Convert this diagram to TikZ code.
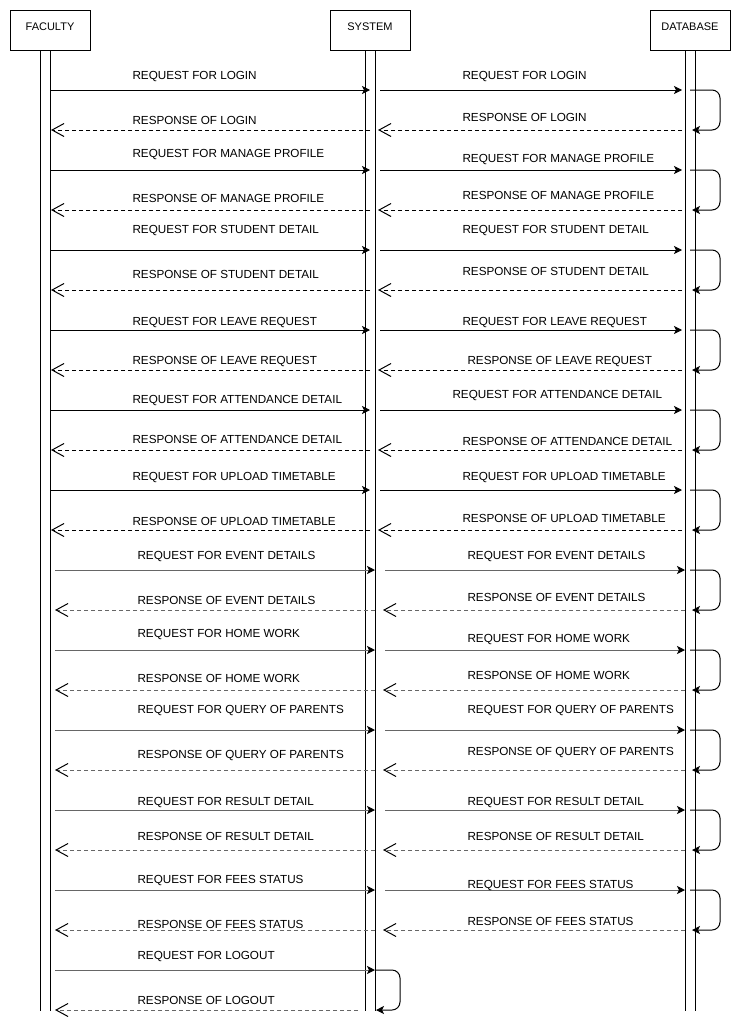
\documentclass[tikz,border=0pt]{standalone}
\usepackage{fontspec}
\setmainfont{Liberation Sans}
\usetikzlibrary{arrows.meta,positioning}

\begin{document}
\begin{tikzpicture}[x=1pt,y=-1pt,line width=1pt,font=\fontsize{11.7}{14}\selectfont,
 actor/.style={draw,minimum width=80pt,minimum height=40pt,inner sep=0pt,text depth=6pt,font=\fontsize{11}{13}\selectfont},
 lbl/.style={anchor=base west,inner sep=0pt},
 req/.style={-{Stealth[length=8pt,width=8pt,inset=2pt,color=black]}},
 res/.style={dash pattern=on 4pt off 3pt,-{Straight Barb[length=12pt,width=13pt,color=black,line width=1pt]}},
 self/.style={rounded corners=8pt,-{Stealth[length=8pt,width=8pt,inset=2pt]}},
 dim/.style={draw=black!60}]
\useasboundingbox (0,0) rectangle (742,1036);
\node[actor](faculty) at (50,30){FACULTY};
\node[actor](system) at (370,30){SYSTEM};
\node[actor](database) at (690,30){DATABASE};
% lifelines
\draw([xshift=-10pt]faculty.south)--++(0,960) (faculty.south)--++(0,960);
\draw([xshift=-5pt]system.south)--++(0,960) ([xshift=5pt]system.south)--++(0,960);
\draw([xshift=-5pt]database.south)--++(0,960) ([xshift=5pt]database.south)--++(0,960);
% first block of messages
\foreach \y/\txt/\ya/\yb/\yc/\yd/\xb/\xd [count=\i] in {
 90/LOGIN/79/79/124/121/462/462,
 170/MANAGE PROFILE/157/162/202/199/462/462,
 250/STUDENT DETAIL/233/233/278/275/462/462,
 330/LEAVE REQUEST/325/325/364/364/462/467,
 410/ATTENDANCE DETAIL/403/398/443/445/452/462,
 490/UPLOAD TIMETABLE/480/480/525/522/462/462}{
 \coordinate(fa\i) at (50,\y); \coordinate(sa\i) at (370,\y);
 \coordinate(sb\i) at (380,\y); \coordinate(da\i) at (682,\y);
 \coordinate(dl\i) at (690,\y); \coordinate(dr\i) at (692,\y+40);
 \coordinate(dc\i) at (682,\y+40); \coordinate(sd\i) at (378,\y+40);
 \coordinate(sc\i) at (370,\y+40); \coordinate(fc\i) at (51,\y+40);
 \draw[req](fa\i)--(sa\i); \draw[req](sb\i)--(da\i);
 \draw[self](dl\i)--++(30,0)--++(0,40)--(dr\i);
 \draw[res](dc\i)--(sd\i); \draw[res](sc\i)--(fc\i);
 \node[lbl](lq\i) at (132,\ya){REQUEST FOR \txt};
 \node[lbl](rq\i) at (\xb,\yb){REQUEST FOR \txt};
 \node[lbl](ls\i) at (132,\yc){RESPONSE OF \txt};
 \node[lbl](rs\i) at (\xd,\yd){RESPONSE OF \txt};
}
% second block of messages
\foreach \y/\txt/\ya/\yb/\yc/\yd [count=\i] in {
 570/EVENT DETAILS/559/559/604/601,
 650/HOME WORK/637/642/682/679,
 730/QUERY OF PARENTS/713/713/758/755,
 810/RESULT DETAIL/805/805/840/840,
 890/FEES STATUS/883/888/928/925}{
 \coordinate(fe\i) at (55,\y); \coordinate(se\i) at (375,\y);
 \coordinate(sf\i) at (385,\y); \coordinate(de\i) at (685,\y);
 \coordinate(dm\i) at (690,\y); \coordinate(dn\i) at (692,\y+40);
 \coordinate(dg\i) at (685,\y+40); \coordinate(sg\i) at (383,\y+40);
 \coordinate(sh\i) at (375,\y+40); \coordinate(fg\i) at (55,\y+40);
 \draw[req,dim](fe\i)--(se\i); \draw[req,dim](sf\i)--(de\i);
 \draw[self](dm\i)--++(30,0)--++(0,40)--(dn\i);
 \draw[res,dim](dg\i)--(sg\i); \draw[res,dim](sh\i)--(fg\i);
 \node[lbl](lq2\i) at (137,\ya){REQUEST FOR \txt};
 \node[lbl](rq2\i) at (467,\yb){REQUEST FOR \txt};
 \node[lbl](ls2\i) at (137,\yc){RESPONSE OF \txt};
 \node[lbl](rs2\i) at (467,\yd){RESPONSE OF \txt};
}
% logout
\coordinate(fo) at (55,970); \coordinate(so) at (375,970);
\coordinate(sp) at (376,1010); \coordinate(sr) at (358,1010); \coordinate(fr) at (55,1010);
\draw[req,dim](fo)--(so);
\draw[self](so)--++(25,0)--++(0,40)--(sp);
\draw[res,dim](sr)--(fr);
\node[lbl](lqo) at (137,959){REQUEST FOR LOGOUT};
\node[lbl](lso) at (137,1004){RESPONSE OF LOGOUT};
\end{tikzpicture}
\end{document}
